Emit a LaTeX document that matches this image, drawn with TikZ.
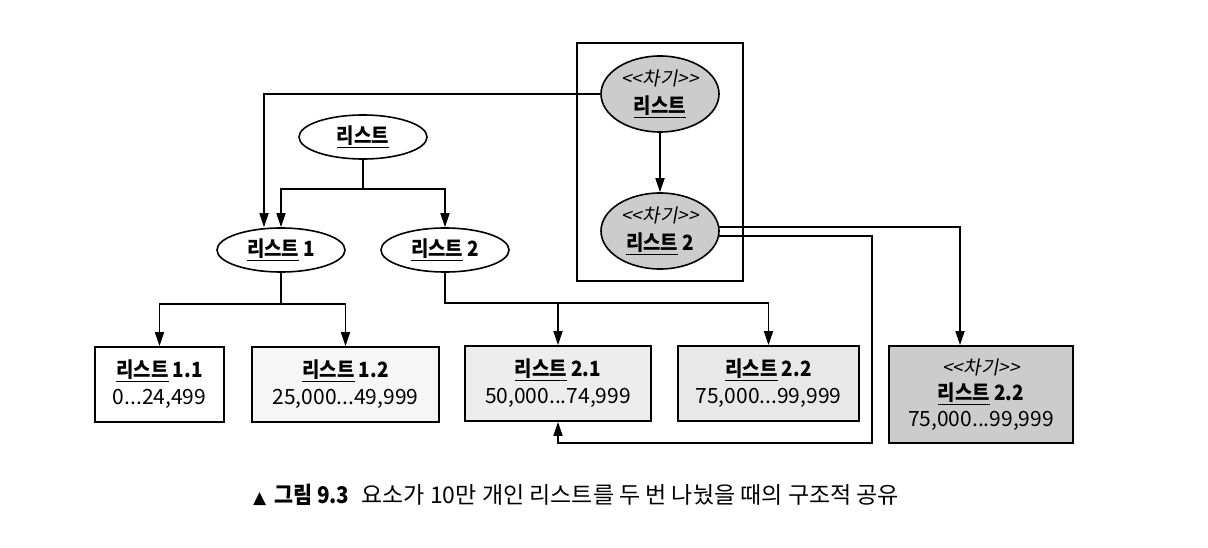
\documentclass[tikz,border=0pt]{standalone}
\usepackage{fontspec}
\setmainfont{Noto Sans CJK KR}[BoldFeatures={FakeStretch=0.9}]
\newfontfamily\slfont{Noto Sans CJK KR}[FakeSlant=0.18]
\newfontfamily\symfont{DejaVu Sans}
\usetikzlibrary{arrows.meta,calc,shapes.geometric}
\tikzset{
  arr/.style={draw, line width=1.7pt, -{Triangle[length=14pt,width=9pt]}},
  ell/.style={ellipse, draw, line width=1.6pt, minimum width=128pt, minimum height=44pt, inner sep=0pt, font=\fontsize{21}{24}\selectfont\bfseries},
  cell/.style={ellipse, draw, line width=1.6pt, fill=gray!40, minimum width=118pt, minimum height=76pt, inner sep=0pt, align=center, font=\fontsize{21}{28}\selectfont},
  boxs/.style={rectangle, draw, line width=1.8pt, minimum height=75pt, inner sep=0pt, align=center, font=\fontsize{21}{27}\selectfont},
}
\newcommand{\ul}[1]{\underline{#1}}
\newcommand{\chagi}{{\slfont\fontsize{19}{20}\selectfont <<차기>>}}
\begin{document}
\begin{tikzpicture}[x=1pt,y=-1pt]
\useasboundingbox (0,0) rectangle (1208,548);
% container
\node[draw, line width=1.8pt, minimum width=166pt, minimum height=238pt, inner sep=0pt] (frame) at (660,162) {};
% ellipses
\node[ell] (l0) at (363,137) {\ul{리스트}};
\node[ell] (l1) at (281,250) {\ul{리스트} 1};
\node[ell] (l2) at (445,250) {\ul{리스트} 2};
\node[cell] (ck1) at (660,94) {\chagi\\\textbf{\ul{리스트}}};
\node[cell] (ck2) at (660,231) {\chagi\\\textbf{\ul{리스트} 2}};
% boxes
\node[boxs, fill=white, minimum width=129pt] (b11) at (159.5,384.5) {\textbf{\ul{리스트} 1.1}\\0...24,499};
\node[boxs, fill=gray!7, minimum width=187pt] (b12) at (345.5,384.5) {\textbf{\ul{리스트} 1.2}\\25,000...49,999};
\node[boxs, fill=gray!14, minimum width=186pt] (b21) at (558,383.5) {\textbf{\ul{리스트} 2.1}\\50,000...74,999};
\node[boxs, fill=gray!18, minimum width=181pt] (b22) at (768.5,383.5) {\textbf{\ul{리스트} 2.2}\\75,000...99,999};
\node[boxs, fill=gray!40, minimum width=184pt, minimum height=97pt, font=\fontsize{21}{26}\selectfont] (b3) at (981,394.5) {\chagi\\\textbf{\ul{리스트} 2.2}\\75,000...99,999};
% connectors
\draw[arr] (ck1.south) -- (ck2.north);
\draw[arr] (ck1.west) -| ($(l1.north)+(-17,0)$);
\draw[arr] (l0.south) -- ++(0,29) -| (l1.north);
\draw[arr] (l0.south) -- ++(0,29) -| (l2.north);
\draw[arr] (l1.south) -- ++(0,31) -| (b11.north);
\draw[arr] (l1.south) -- ++(0,31) -| (b12.north);
\draw[arr] (l2.south) -- ++(0,30) -| (b21.north);
\draw[arr] (l2.south) -- ++(0,30) -| (b22.north);
\draw[arr] ($(ck2.east)+(-1,-4)$) -| ($(b3.north)+(-21,0)$);
\coordinate (rt) at (872,443);
\draw[arr] ($(ck2.east)+(-1,5)$) -| (rt) -| (b21.south);
% caption
\node[anchor=west, inner sep=0pt, font=\fontsize{23}{26}\selectfont] (cap) at (253,495) {{\symfont\fontsize{17}{18}\selectfont ▲}\hspace{8pt}\textbf{그림 9.3}\hspace{12pt}요소가 10만 개인 리스트를 두 번 나눴을 때의 구조적 공유};
\end{tikzpicture}
\end{document}
